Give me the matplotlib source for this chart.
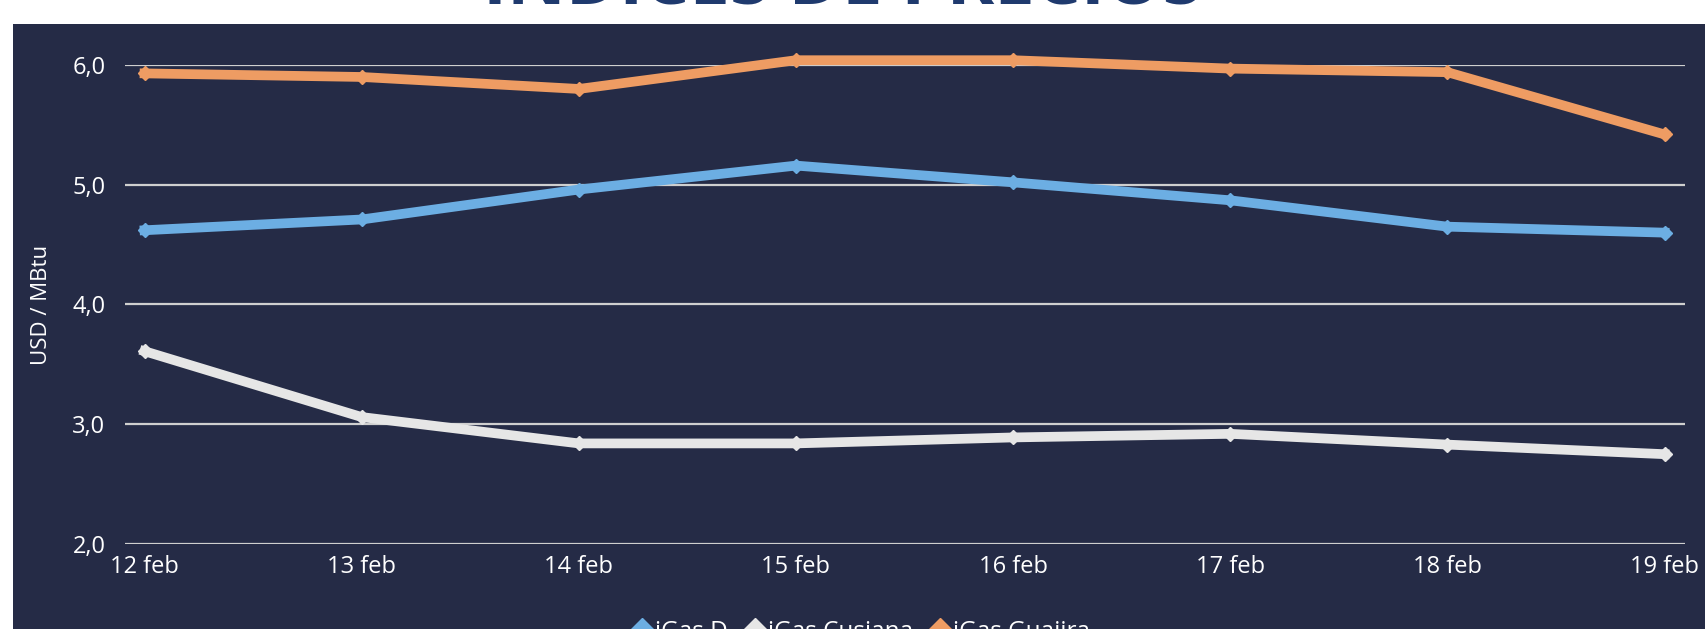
import matplotlib.pyplot as plt
from matplotlib.patches import Rectangle
from matplotlib.lines import Line2D

plt.rcParams['font.family'] = ['Open Sans', 'DejaVu Sans']

dias = ['12 feb', '13 feb', '14 feb', '15 feb', '16 feb', '17 feb', '18 feb', '19 feb']
igas_d = [4.62, 4.71, 4.96, 5.16, 5.02, 4.87, 4.65, 4.60]
igas_cusiana = [3.61, 3.06, 2.84, 2.84, 2.89, 2.92, 2.83, 2.75]
igas_guajira = [5.93, 5.90, 5.80, 6.04, 6.04, 5.97, 5.94, 5.42]
yticks = [2.0, 3.0, 4.0, 5.0, 6.0]

fondo = '#252b46'
texto = '#ffffff'

fig = plt.figure(figsize=(17.05, 6.29), dpi=100)
fig.patch.set_facecolor('white')
# dark chart area
fig.patches.append(Rectangle((13 / 1705, 0), 1 - 13 / 1705, 1 - 24 / 629,
                             transform=fig.transFigure, facecolor=fondo,
                             edgecolor='none', zorder=-5))

fig.text(0.494, 1 - 3 / 629, 'INDICES DE PRECIOS', ha='center', va='baseline',
         fontsize=52, fontweight='bold', color='#1f3a6e')

ax = fig.add_axes([125 / 1705, (629 - 544) / 629, 1560 / 1705, 479 / 629])
ax.set_zorder(2)
ax.set_facecolor('none')

x = list(range(len(dias)))
series = [(igas_d, '#6caee3', 'iGas D'),
          (igas_cusiana, '#e6e6e6', 'iGas Cusiana'),
          (igas_guajira, '#ee9c63', 'iGas Guajira')]
for vals, col, lab in series:
    ax.plot(x, vals, color=col, lw=7, marker='D', ms=7.5, label=lab,
            clip_on=False, zorder=3, solid_joinstyle='round')

ax.set_xlim(-0.09, len(dias) - 1 + 0.094)
ax.set_ylim(2, 6)
ax.set_yticks(yticks)
ax.set_yticklabels([('%.1f' % v).replace('.', ',') for v in yticks])
ax.set_xticks(x)
ax.set_xticklabels(dias)
ax.grid(axis='y', color='#cfcfcf', lw=1.6, zorder=1)
ax.tick_params(axis='both', length=0, colors=texto, labelsize=17)
ax.tick_params(axis='y', pad=14)
ax.tick_params(axis='x', pad=8)
for s in ax.spines.values():
    s.set_visible(False)
ax.set_ylabel('USD / MBtu', color=texto, fontsize=16)
ax.yaxis.set_label_coords(-0.047, 0.5)

handles = [Line2D([], [], color=c, marker='D', ms=11, lw=0) for _, c, _ in series]
leg = fig.legend(handles, [l for _, _, l in series], loc='center', ncol=3,
                 bbox_to_anchor=(0.505, -0.004), bbox_transform=fig.transFigure,
                 frameon=False, fontsize=17.5, labelcolor=texto, handlelength=0.8,
                 handletextpad=0.15, columnspacing=0.7)
leg.set_zorder(3)

fig.savefig('out.png', dpi=100)
